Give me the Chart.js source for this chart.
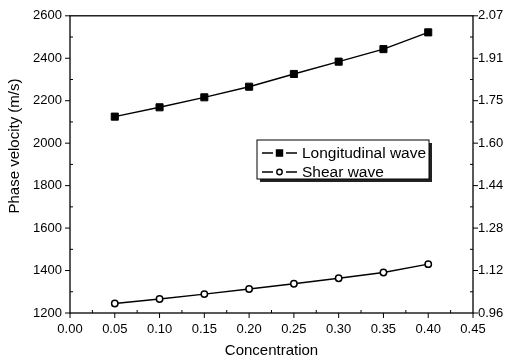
<!DOCTYPE html>
<html>
<head>
<meta charset="utf-8">
<script src="https://cdn.jsdelivr.net/npm/chart.js@4/dist/chart.umd.min.js"></script>
<style>
  html, body { margin: 0; padding: 0; background: #fff; }
  #wrap { width: 509px; height: 362px; }
</style>
</head>
<body>
<div id="wrap"><canvas id="miGrafico"></canvas></div>
<script>
// data
const concentracion = [0.05, 0.10, 0.15, 0.20, 0.25, 0.30, 0.35, 0.40];
const longitudinal = [2125, 2169, 2216, 2266, 2326, 2384, 2443, 2522];
const shear = [1245, 1266, 1289, 1313, 1338, 1364, 1391, 1430];
const ticksDerecha = ['0.96', '1.12', '1.28', '1.44', '1.60', '1.75', '1.91', '2.07'];

const fuente = 'Liberation Sans, Arial, sans-serif';
const ctx = document.getElementById('miGrafico').getContext('2d');

// major ticks point outward, minor ticks inward, plus the frame, y title and legend
const ejesPlugin = {
    id: 'ejes',
    afterDraw(chart) {
        const c = chart.ctx;
        const a = chart.chartArea;
        const x = chart.scales.x, y = chart.scales.y;
        c.save();
        c.strokeStyle = '#000';
        c.lineWidth = 1.3;
        c.strokeRect(a.left, a.top, a.right - a.left, a.bottom - a.top);
        c.lineWidth = 1;
        c.beginPath();
        for (let v = 0; v <= 0.4501; v += 0.025) {
            const px = x.getPixelForValue(v);
            const mayor = Math.round(v * 1000) % 50 === 0;
            if (mayor) { c.moveTo(px, a.bottom); c.lineTo(px, a.bottom + 5); }
            else { c.moveTo(px, a.bottom); c.lineTo(px, a.bottom - 3); }
        }
        for (let v = 1200; v <= 2600; v += 100) {
            const py = y.getPixelForValue(v);
            if (v % 200 === 0) {
                c.moveTo(a.left, py); c.lineTo(a.left - 5, py);
                c.moveTo(a.right, py); c.lineTo(a.right + 5, py);
            } else {
                c.moveTo(a.left, py); c.lineTo(a.left + 3, py);
                c.moveTo(a.right, py); c.lineTo(a.right - 3, py);
            }
        }
        c.stroke();

        // y title
        c.fillStyle = '#000';
        c.font = '15px ' + fuente;
        c.textAlign = 'center';
        c.textBaseline = 'middle';
        c.translate(15, 146);
        c.rotate(-Math.PI / 2);
        c.fillText('Phase velocity (m/s)', 0, 0);
        c.restore();

        // legend
        c.save();
        const bx = 257, by = 140, bw = 172, bh = 39;
        c.fillStyle = '#222';
        c.fillRect(bx + 3, by + 3, bw, bh);
        c.fillStyle = '#fff';
        c.fillRect(bx, by, bw, bh);
        c.strokeStyle = '#000';
        c.lineWidth = 1;
        c.strokeRect(bx, by, bw, bh);
        chart.data.datasets.forEach((ds, i) => {
            const ly = 153 + i * 19;
            c.strokeStyle = '#000';
            c.lineWidth = 1.4;
            c.beginPath();
            c.moveTo(262, ly); c.lineTo(273, ly);
            c.moveTo(286, ly); c.lineTo(297, ly);
            c.stroke();
            c.fillStyle = ds.pointBackgroundColor;
            c.strokeStyle = ds.pointBorderColor;
            Chart.helpers.drawPoint(c, {
                pointStyle: ds.pointStyle, radius: ds.pointRadius * 0.85,
                borderWidth: ds.pointBorderWidth
            }, 279.5, ly);
            c.fillStyle = '#000';
            c.font = '15.5px ' + fuente;
            c.textAlign = 'left';
            c.textBaseline = 'middle';
            c.fillText(ds.label, 302, ly + 1);
        });
        c.restore();
    }
};

const miGrafico = new Chart(ctx, {
    type: 'line',
    data: {
        datasets: [{
            label: 'Longitudinal wave',
            data: concentracion.map((v, i) => ({ x: v, y: longitudinal[i] })),
            borderColor: '#000',
            backgroundColor: '#000',
            borderWidth: 1.4,
            pointStyle: 'rect',
            pointRadius: 5,
            pointBorderWidth: 1,
            pointBackgroundColor: '#000',
            pointBorderColor: '#000',
            yAxisID: 'y'
        }, {
            label: 'Shear wave',
            data: concentracion.map((v, i) => ({ x: v, y: shear[i] })),
            borderColor: '#000',
            backgroundColor: '#fff',
            borderWidth: 1.4,
            pointStyle: 'circle',
            pointRadius: 3.2,
            pointBorderWidth: 1.5,
            pointBackgroundColor: '#fff',
            pointBorderColor: '#000',
            yAxisID: 'y'
        }]
    },
    options: {
        responsive: true,
        maintainAspectRatio: false,
        animation: false,
        layout: { padding: { top: 15 } },
        plugins: {
            legend: { display: false },
            tooltip: { enabled: false }
        },
        scales: {
            x: {
                type: 'linear',
                min: 0, max: 0.45,
                grid: { display: false, drawTicks: false },
                border: { display: false },
                ticks: {
                    stepSize: 0.05,
                    padding: 9,
                    color: '#000',
                    font: { family: fuente, size: 13 },
                    maxRotation: 0,
                    callback: v => v.toFixed(2)
                },
                title: {
                    display: true,
                    text: 'Concentration',
                    color: '#000',
                    font: { family: fuente, size: 15 },
                    padding: { top: 0, bottom: 2 }
                },
                afterFit: s => { s.height = 49; }
            },
            y: {
                position: 'left',
                min: 1200, max: 2600,
                grid: { display: false, drawTicks: false },
                border: { display: false },
                ticks: {
                    stepSize: 200,
                    padding: 8,
                    color: '#000',
                    font: { family: fuente, size: 13 },
                    callback: v => String(v)
                },
                afterFit: s => { s.width = 70; }
            },
            y2: {
                position: 'right',
                min: 0.96, max: 2.07,
                grid: { display: false, drawTicks: false },
                border: { display: false },
                afterBuildTicks: s => {
                    s.ticks = ticksDerecha.map((t, i) => ({ value: 0.96 + i * (2.07 - 0.96) / (ticksDerecha.length - 1) }));
                },
                ticks: {
                    padding: 5,
                    color: '#000',
                    font: { family: fuente, size: 13 },
                    callback: (v, i) => ticksDerecha[i]
                },
                afterFit: s => { s.width = 36; }
            }
        }
    },
    plugins: [ejesPlugin]
});
</script>
</body>
</html>
